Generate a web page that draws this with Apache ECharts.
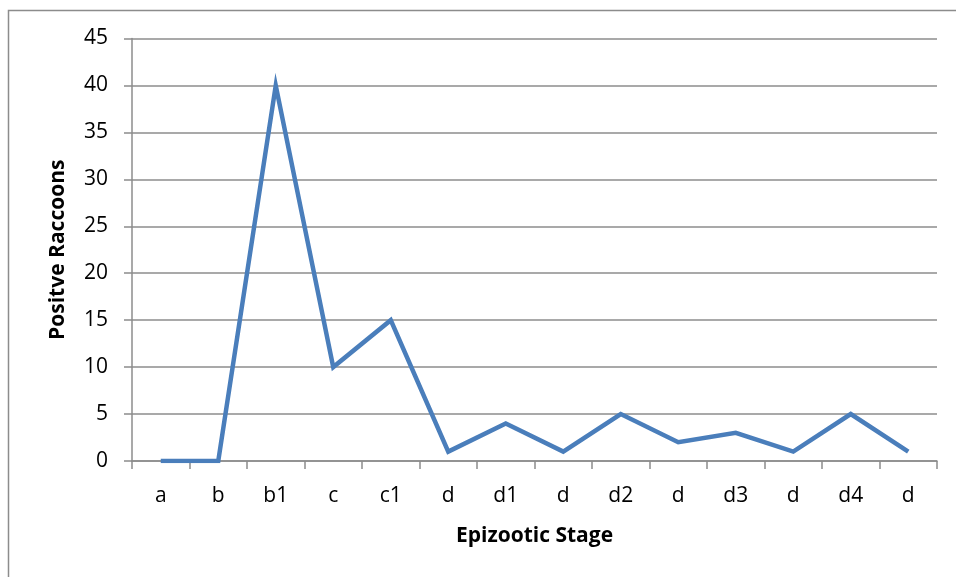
<!DOCTYPE html>
<html>
<head>
<meta charset="utf-8">
<script src="https://cdn.jsdelivr.net/npm/echarts@6/dist/echarts.min.js"></script>
<style>html,body{margin:0;padding:0;background:#fff;}#c{width:956px;height:577px;}</style>
</head>
<body>
<div id="c"></div>
<script>
const categories = ['a','b','b1','c','c1','d','d1','d','d2','d','d3','d','d4','d'];
const positives = [0,0,40,10,15,1,4,1,5,2,3,1,5,1];
const yTicks = {min: 0, max: 45, interval: 5};

const chart = echarts.init(document.getElementById('c'));
const font = 'Open Sans, Noto Sans, sans-serif';
chart.setOption({
  animation: false,
  graphic: [{
    type: 'rect', left: 6, top: 8,
    shape: {width: 1000, height: 1000},
    style: {fill: 'none', stroke: '#8c8c8c', lineWidth: 1.5},
    silent: true, z: -10
  }],
  grid: {left: 132, right: 19, top: 38.5, bottom: 116, containLabel: false},
  xAxis: {
    type: 'category',
    data: categories,
    boundaryGap: true,
    name: 'Epizootic Stage',
    nameLocation: 'middle',
    nameGap: 65,
    nameTextStyle: {fontFamily: font, fontSize: 21, fontWeight: 'bold', color: '#000'},
    axisLine: {lineStyle: {color: '#8c8c8c', width: 1.5}},
    axisTick: {show: true, alignWithLabel: false, length: 8, lineStyle: {color: '#8c8c8c', width: 1.5}},
    axisLabel: {fontFamily: font, fontSize: 21, color: '#000', margin: 25, interval: 0},
    splitLine: {show: false}
  },
  yAxis: {
    type: 'value',
    min: yTicks.min, max: yTicks.max, interval: yTicks.interval,
    name: 'Positve Raccoons',
    nameLocation: 'middle',
    nameGap: 63,
    nameTextStyle: {fontFamily: font, fontSize: 21, fontWeight: 'bold', color: '#000'},
    axisLine: {show: true, lineStyle: {color: '#8c8c8c', width: 1.5}},
    axisTick: {show: true, length: 8, lineStyle: {color: '#8c8c8c', width: 1.5}},
    axisLabel: {fontFamily: font, fontSize: 21, color: '#000', margin: 24},
    splitLine: {show: true, lineStyle: {color: '#8c8c8c', width: 1.5}}
  },
  series: [{
    type: 'line',
    data: positives,
    showSymbol: false,
    symbol: 'none',
    lineStyle: {color: '#4a7ebb', width: 4.5, join: 'miter'},
    itemStyle: {color: '#4a7ebb'}
  }]
});
</script>
</body>
</html>
